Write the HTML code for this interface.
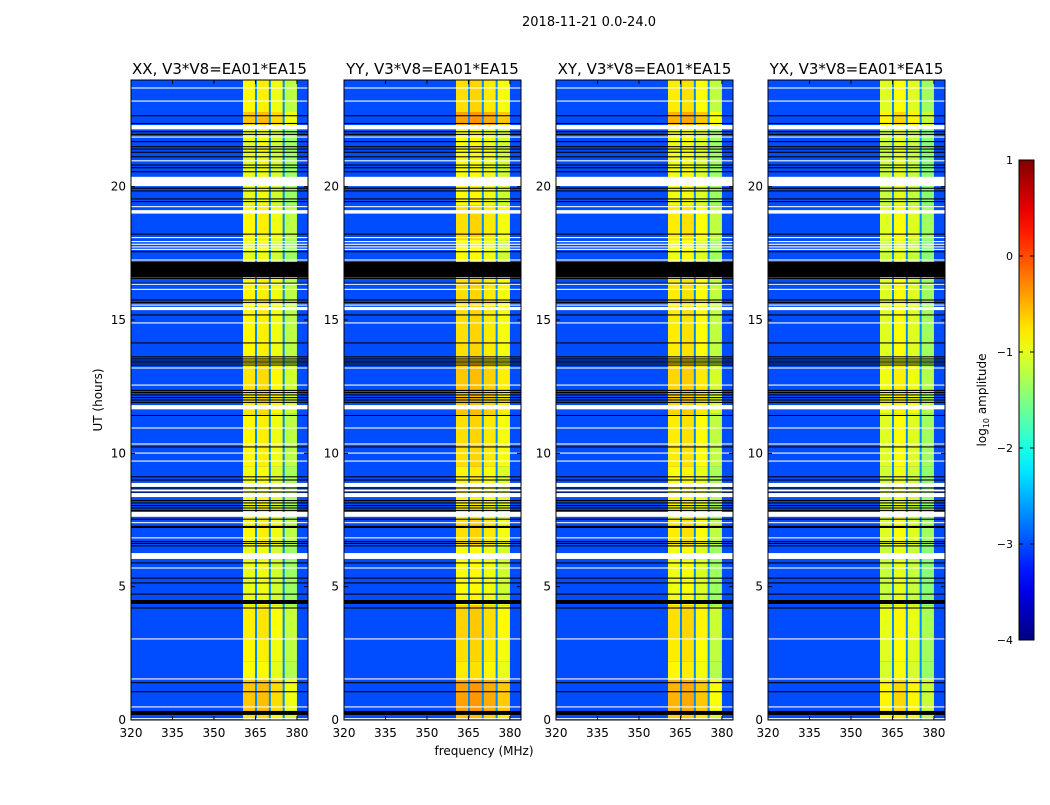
<!DOCTYPE html>
<html><head><meta charset="utf-8">
<style>
body{margin:0;background:#fff;width:1050px;height:800px;overflow:hidden;font-family:"Liberation Sans","DejaVu Sans",sans-serif;}
svg text{font-family:"DejaVu Sans","Liberation Sans",sans-serif;}
</style></head>
<body>
<svg id="fig" width="1050" height="800" xmlns="http://www.w3.org/2000/svg"></svg>
<script>
// ---- data ----
const panelTitles = ["XX, V3*V8=EA01*EA15","YY, V3*V8=EA01*EA15","XY, V3*V8=EA01*EA15","YX, V3*V8=EA01*EA15"];
const xTicks = [320,335,350,365,380];
const yTicks = [0,5,10,15,20];
const cbTicks = [1,0,-1,-2,-3,-4];
const noiseLevel = -3.0;
const subbandEdges = [360.5,365,370,375,380];
const dividerFreqs = [365.2,370.2,375.2];
const dividerLevel = -2.7;
const bandLevels = [[-1.0,-0.95,-1.1,-1.35],[-0.9,-0.85,-0.95,-1.1],[-0.95,-0.9,-1.05,-1.35],[-1.15,-1.0,-1.15,-1.45]];
const boostScale = [0.5,0.6,0.55,0.4];
const segStart = [0,0.3,1.5,2.2,3,4.3,6.5,7.5,9.5,11.5,13.3,15.3,16.6,18,19.3,22.2,22.8];
const segEnd   = [0.3,1.5,2.2,3,4.3,6.5,7.5,9.5,11.5,13.3,15.3,16.6,18,19.3,22.2,22.8,24];
const segBoost = [0.5,0.8,0.2,0.3,0.4,0,0.3,0.1,0.3,0.5,0.3,0.3,0,0.3,0,0.8,0.3];
// flags: [start hour, end hour, type 1=white(no data) 0=black]
const flags = [
[23.68,23.72,1],[23.19,23.23,1],[22.64,22.68,0],[22.35,22.39,0],[22.15,22.31,1],[22.04,22.08,0],[21.94,21.98,0],[21.84,21.88,1],
[21.67,21.71,0],[21.48,21.52,0],[21.39,21.43,0],[21.27,21.31,0],[21.10,21.14,0],[20.95,20.99,1],[20.79,20.83,0],[20.69,20.73,0],[20.54,20.58,0],
[20.02,20.37,1],[19.92,19.96,0],[19.82,19.86,0],[19.52,19.56,0],[19.42,19.46,0],[19.23,19.27,1],[18.99,19.12,1],
[18.20,18.24,0],[18.07,18.11,1],[17.92,17.96,1],[17.82,17.86,1],[17.72,17.76,1],[17.63,17.67,1],[17.54,17.58,0],[17.23,17.27,1],
[16.61,17.18,0],[16.54,16.58,0],[16.36,16.40,0],[16.32,16.36,1],[16.13,16.17,1],[15.73,15.77,0],[15.64,15.68,0],[15.54,15.58,1],[15.37,15.49,1],
[15.17,15.21,0],[14.87,14.91,1],[14.12,14.16,0],
[13.60,13.64,0],[13.52,13.56,0],[13.44,13.48,0],[13.37,13.41,0],[13.29,13.33,0],[13.18,13.22,1],[12.54,12.58,1],
[12.34,12.38,0],[12.26,12.30,0],[12.17,12.21,0],[12.07,12.11,0],[11.98,12.02,0],[11.89,11.93,0],[11.65,11.81,1],[11.40,11.44,0],
[10.93,10.97,1],[10.33,10.37,1],[10.22,10.26,0],[9.99,10.03,1],[9.69,9.73,1],[9.10,9.14,0],[8.98,9.02,0],
[8.74,8.89,1],[8.68,8.72,0],[8.57,8.64,1],[8.53,8.57,0],[8.36,8.51,1],
[8.21,8.25,0],[8.12,8.16,0],[8.02,8.06,0],[7.93,7.97,0],[7.84,7.88,0],[7.62,7.80,1],[7.51,7.55,0],[7.38,7.42,1],[7.20,7.28,0],
[6.81,6.85,1],[6.67,6.71,0],[6.60,6.64,0],[6.51,6.55,0],[6.04,6.26,1],[5.87,5.91,0],[5.68,5.72,1],
[5.30,5.34,0],[5.12,5.16,0],[4.70,4.74,0],[4.35,4.50,0],[4.18,4.22,0],
[3.02,3.06,1],[1.52,1.56,1],[1.38,1.42,0],[1.04,1.08,0],[0.47,0.51,1],[0.19,0.34,0],[0.03,0.07,1]
];

// ---- layout ----
const NS="http://www.w3.org/2000/svg";
const svg=document.getElementById('fig');
const panelLeft=[131,344,556,768], PW=177, PT=80, PB=720;
const fMin=320,fMax=384,hMin=0,hMax=24;
function mk(tag,attrs,parent){const e=document.createElementNS(NS,tag);for(const k in attrs)e.setAttribute(k,attrs[k]);(parent||svg).appendChild(e);return e;}
function jet(v){let t=(v+4)/5;t=Math.max(0,Math.min(1,t));
 const f=x=>Math.max(0,Math.min(1,x));
 const r=f(1.5-Math.abs(4*t-3)),g=f(1.5-Math.abs(4*t-2)),b=f(1.5-Math.abs(4*t-1));
 return `rgb(${Math.round(r*255)},${Math.round(g*255)},${Math.round(b*255)})`;}

const sup=mk('text',{x:589,y:26,'font-size':13,'text-anchor':'middle'});
sup.textContent="2018-11-21 0.0-24.0";



panelTitles.forEach((title,p)=>{
 const L=panelLeft[p];
 const xs=f=>L+(f-fMin)/(fMax-fMin)*PW;
 const ys=h=>PB-(h-hMin)/(hMax-hMin)*(PB-PT);
 const g=mk('g',{});
 
 
 const bg=mk('rect',{x:L,y:PT,width:PW,height:PB-PT,fill:jet(noiseLevel)},g);
 
 
 for(let s=0;s<segStart.length;s++){
  for(let b=0;b<4;b++){
   const v=bandLevels[p][b]+segBoost[s]*boostScale[p];
   const r=mk('rect',{x:xs(subbandEdges[b]),y:ys(segEnd[s]),width:xs(subbandEdges[b+1])-xs(subbandEdges[b]),height:ys(segStart[s])-ys(segEnd[s]),fill:jet(v)},g);
   
   
  }
 }
 dividerFreqs.forEach(f=>{
  const d=mk('rect',{x:xs(f)-1,y:PT,width:2,height:PB-PT,fill:jet(dividerLevel)},g);
  
  
 });
 flags.forEach(fl=>{
  const y0=ys(fl[1]),y1=ys(fl[0]);
  const r=mk('rect',{x:L,y:y0,width:PW,height:Math.max(1,y1-y0),fill:fl[2]?'#fff':'#000'},g);
  
  
 });
 const fr=mk('rect',{x:L,y:PT,width:PW,height:PB-PT,fill:'none',stroke:'#000','stroke-width':1},g);
 
 
 xTicks.forEach(t=>{
  const x=xs(t);
  mk('line',{x1:x,y1:PB,x2:x,y2:PB-4,stroke:'#000'},g);
  mk('line',{x1:x,y1:PT,x2:x,y2:PT+4,stroke:'#000'},g);
  const tx=mk('text',{x:x,y:PB+17,'font-size':12,'text-anchor':'middle'},g);
  tx.textContent=t;
  
  
 });
 yTicks.forEach(t=>{
  const y=ys(t);
  mk('line',{x1:L,y1:y,x2:L+4,y2:y,stroke:'#000'},g);
  mk('line',{x1:L+PW,y1:y,x2:L+PW-4,y2:y,stroke:'#000'},g);
  const tx=mk('text',{x:L-5,y:y+4,'font-size':12,'text-anchor':'end'},g);
  tx.textContent=t;
  
  
 });
 const tt=mk('text',{x:L+PW/2,y:74,'font-size':15,'text-anchor':'middle'},g);
 tt.textContent=title;
 
 
});

const yl=mk('text',{x:0,y:0,'font-size':12,'text-anchor':'middle',transform:'translate(102,400) rotate(-90)'});
yl.textContent="UT (hours)";


const xl=mk('text',{x:484,y:755,'font-size':12,'text-anchor':'middle'});
xl.textContent="frequency (MHz)";



const CBX=1019,CBW=15,CBT=160,CBB=640;
const defs=mk('defs',{});
const grad=mk('linearGradient',{id:'jetg',x1:0,y1:1,x2:0,y2:0},defs);
for(let i=0;i<=20;i++){mk('stop',{offset:i/20,'stop-color':jet(-4+5*i/20)},grad);}
const cb=mk('rect',{x:CBX,y:CBT,width:CBW,height:CBB-CBT,fill:'url(#jetg)',stroke:'#000','stroke-width':1});


cbTicks.forEach(t=>{
 const y=CBB-(t+4)/5*(CBB-CBT);
 mk('line',{x1:CBX,y1:y,x2:CBX+4,y2:y,stroke:'#000'});
 mk('line',{x1:CBX+CBW,y1:y,x2:CBX+CBW-4,y2:y,stroke:'#000'});
 const tx=mk('text',{x:CBX-6,y:y+4,'font-size':11,'text-anchor':'end'});
 tx.textContent=t<0?'\u2212'+(-t):String(t);
 
 
});
const cl=mk('text',{x:0,y:0,'font-size':12,'text-anchor':'middle',transform:'translate(986,400) rotate(-90)'});
cl.innerHTML='log<tspan font-size="8" dy="3">10</tspan><tspan dy="-3"> amplitude</tspan>';


</script>
</body></html>
